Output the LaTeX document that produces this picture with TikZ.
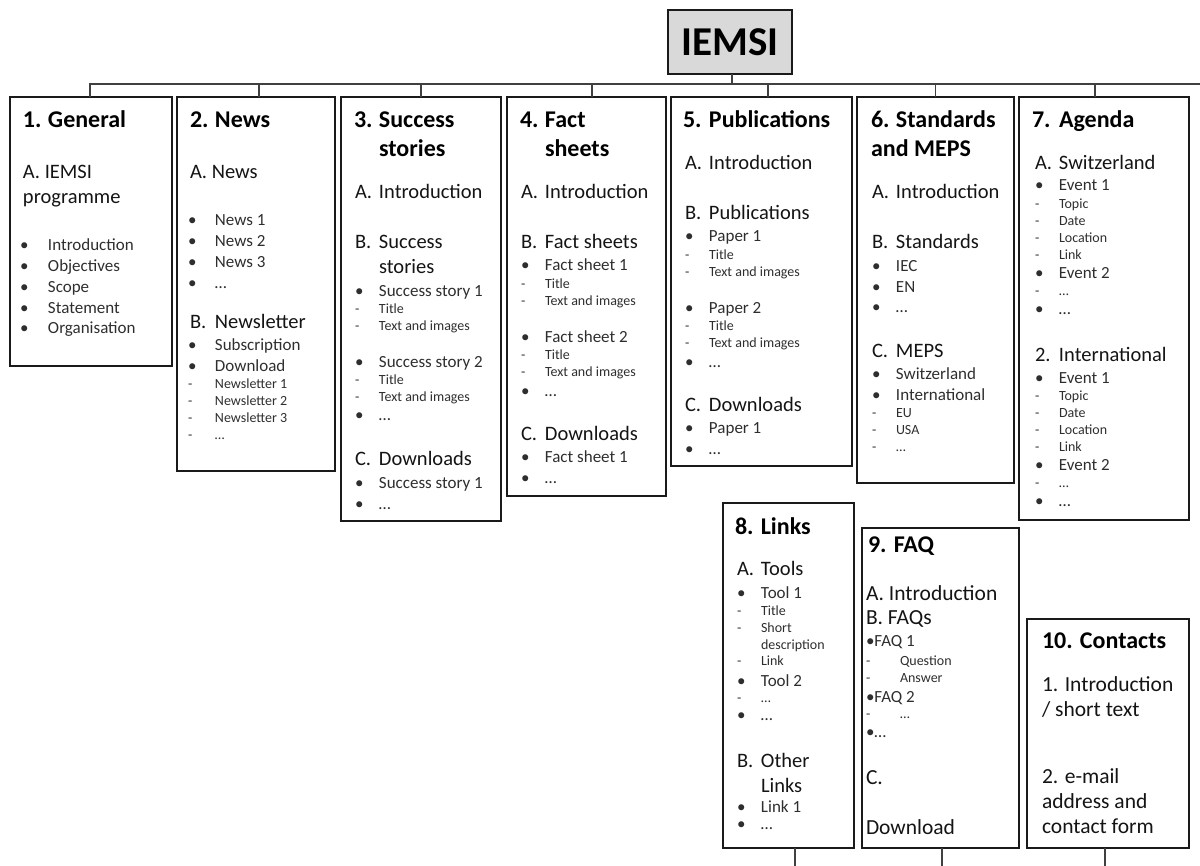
\documentclass[tikz,border=0pt]{standalone}
\usepackage{fontspec}
\setmainfont{Carlito}
\definecolor{tsec}{HTML}{141414}
\definecolor{titem}{HTML}{2E2E2E}
\definecolor{boxline}{HTML}{1A1A1A}
\definecolor{connc}{HTML}{404040}
\definecolor{rootfill}{HTML}{D9D9D9}
\newcounter{tn}
\newcommand\TT[3]{\stepcounter{tn}\node[#1] (t\arabic{tn}) at #2 {#3};}
\newcommand\Hd[3]{\TT{hd}{(\hx,#1)}{\makebox[\dimexpr\tx pt-\hx pt\relax][l]{#2}#3}}
\newcommand\Hc[2]{\TT{hd}{(\tx,#1)}{#2}}
\newcommand\Hp[2]{\TT{hd}{(\hx,#1)}{#2}}
\newcommand\Sd[3]{\TT{sc}{(\lx,#1)}{\makebox[\dimexpr\tx pt-\lx pt\relax][l]{#2}#3}}
\newcommand\Sc[2]{\TT{sc}{(\tx,#1)}{#2}}
\newcommand\Sp[2]{\TT{sc}{(\hx,#1)}{#2}}
\newcommand\Bu[2]{\TT{it}{(\lx,#1)}{\makebox[\dimexpr\tx pt-\lx pt\relax][l]{•}#2}}
\newcommand\Da[2]{\TT{sb}{(\lx,#1)}{\makebox[\dimexpr\tx pt-\lx pt\relax][l]{-}#2}}
\newcommand\Dc[2]{\TT{sb}{(\tx,#1)}{#2}}
\newcommand\At[4]{\TT{#1}{(#2,#3)}{#4}}
\begin{document}
\begin{tikzpicture}[x=1pt,y=-1pt,
  txt/.style={anchor=base west,inner sep=0pt,outer sep=0pt},
  hd/.style={txt,font=\fontsize{24}{29}\selectfont\bfseries,text=black},
  sc/.style={txt,font=\fontsize{20.5}{25}\selectfont,text=tsec},
  scb/.style={txt,font=\fontsize{21.5}{25}\selectfont,text=tsec},
  it/.style={txt,font=\fontsize{17}{21}\selectfont,text=titem},
  sb/.style={txt,font=\fontsize{14}{17}\selectfont,text=titem},
  box/.style={draw=boxline,line width=1.8pt,rectangle,inner sep=0pt,outer sep=0pt},
  conn/.style={draw=connc,line width=1.2pt}]
\useasboundingbox (0,0) rectangle (1200,866);
% boxes
\node[box,fill=rootfill,minimum width=124pt,minimum height=64pt,font=\fontsize{41}{45}\selectfont\bfseries] (root) at (730,42) {IEMSI};
\node[box,minimum width=162pt,minimum height=269pt] (b1) at (91,231.5) {};
\node[box,minimum width=158pt,minimum height=374pt] (b2) at (256,284) {};
\node[box,minimum width=160pt,minimum height=424pt] (b3) at (421,309) {};
\node[box,minimum width=159pt,minimum height=399pt] (b4) at (586.5,296.5) {};
\node[box,minimum width=181pt,minimum height=369pt] (b5) at (761.5,281.5) {};
\node[box,minimum width=157pt,minimum height=386pt] (b6) at (935.5,290) {};
\node[box,minimum width=170pt,minimum height=423pt] (b7) at (1104,308.5) {};
\node[box,minimum width=131pt,minimum height=345pt] (b8) at (788.5,675.5) {};
\node[box,minimum width=157pt,minimum height=320pt] (b9) at (940.5,688) {};
\node[box,minimum width=162pt,minimum height=229pt] (b10) at (1108,733.5) {};
% connectors
\coordinate (busR) at (1200,84);
\draw[conn] ([xshift=2pt]root.south) -- ([xshift=2pt]root.south |- busR);
\draw[conn] ([xshift=-1pt]b1.north) |- (busR);
\draw[conn] ([xshift=3pt]b2.north) -- ([xshift=3pt]b2.north |- busR);
\draw[conn] (b3.north) -- (b3.north |- busR);
\draw[conn] ([xshift=5.5pt]b4.north) -- ([xshift=5.5pt]b4.north |- busR);
\draw[conn] ([xshift=6.5pt]b5.north) -- ([xshift=6.5pt]b5.north |- busR);
\draw[conn] (b6.north) -- (b6.north |- busR);
\draw[conn] ([xshift=-9pt]b7.north) -- ([xshift=-9pt]b7.north |- busR);
\coordinate (e8) at (795,866);
\coordinate (e9) at (942,866);
\coordinate (e10) at (1105,866);
\draw[conn] (b8.south -| e8) -- (e8);
\draw[conn] (b9.south -| e9) -- (e9);
\draw[conn] (b10.south -| e10) -- (e10);
% box 1
\def\hx{23}\def\lx{20}\def\tx{48}
\Hd{128}{1.}{General}
\Sp{179}{A. IEMSI}
\Sp{204}{programme}
\Bu{251}{Introduction}
\Bu{272}{Objectives}
\Bu{293}{Scope}
\Bu{314}{Statement}
\Bu{334}{Organisation}
% box 2
\def\hx{190}\def\lx{188}\def\tx{215}
\Hd{128}{2.}{News}
\Sp{179}{A. News}
\Bu{226}{News 1}
\Bu{247}{News 2}
\Bu{268}{News 3}
\Bu{289}{…}
\def\lx{190}\Sd{329}{B.}{Newsletter}\def\lx{188}
\Bu{351}{Subscription}
\Bu{372}{Download}
\Da{389}{Newsletter 1}
\Da{406}{Newsletter 2}
\Da{423}{Newsletter 3}
\Da{440}{…}
% box 3
\def\hx{354}\def\lx{355}\def\tx{379}
\Hd{128}{3.}{Success}
\Hc{157}{stories}
\Sd{199}{A.}{Introduction}
\Sd{249}{B.}{Success}
\Sc{274}{stories}
\Bu{297}{Success story 1}
\Da{314}{Title}
\Da{331}{Text and images}
\Bu{368}{Success story 2}
\Da{385}{Title}
\Da{402}{Text and images}
\Bu{421}{…}
\Sd{466}{C.}{Downloads}
\Bu{489}{Success story 1}
\Bu{510}{…}
% box 4
\def\hx{520}\def\lx{521}\def\tx{545}
\Hd{128}{4.}{Fact}
\Hc{157}{sheets}
\Sd{199}{A.}{Introduction}
\Sd{249}{B.}{Fact sheets}
\Bu{271}{Fact sheet 1}
\Da{289}{Title}
\Da{306}{Text and images}
\Bu{343}{Fact sheet 2}
\Da{360}{Title}
\Da{377}{Text and images}
\Bu{397}{…}
\Sd{441}{C.}{Downloads}
\Bu{463}{Fact sheet 1}
\Bu{484}{…}
% box 5
\def\hx{683}\def\lx{685}\def\tx{709}
\Hd{128}{5.}{Publications}
\Sd{170}{A.}{Introduction}
\Sd{220}{B.}{Publications}
\Bu{242}{Paper 1}
\Da{260}{Title}
\Da{277}{Text and images}
\Bu{314}{Paper 2}
\Da{331}{Title}
\Da{348}{Text and images}
\Bu{368}{…}
\Sd{412}{C.}{Downloads}
\Bu{434}{Paper 1}
\Bu{455}{…}
% box 6
\def\hx{871}\def\lx{872}\def\tx{896}
\Hd{128}{6.}{Standards}
\Hp{157}{and MEPS}
\Sd{199}{A.}{Introduction}
\Sd{249}{B.}{Standards}
\Bu{272}{IEC}
\Bu{293}{EN}
\Bu{313}{…}
\Sd{358}{C.}{MEPS}
\Bu{380}{Switzerland}
\Bu{401}{International}
\Da{418}{EU}
\Da{435}{USA}
\Da{452}{…}
% box 7
\def\hx{1032}\def\lx{1035}\def\tx{1059}
\Hd{128}{7.}{Agenda}
\Sd{170}{A.}{Switzerland}
\Bu{191}{Event 1}
\Da{209}{Topic}
\Da{226}{Date}
\Da{243}{Location}
\Da{260}{Link}
\Bu{279}{Event 2}
\Da{296}{…}
\Bu{315}{…}
\Sd{362}{2.}{International}
\Bu{384}{Event 1}
\Da{401}{Topic}
\Da{418}{Date}
\Da{435}{Location}
\Da{452}{Link}
\Bu{471}{Event 2}
\Da{488}{…}
\Bu{507}{…}
% box 8
\def\hx{735}\def\lx{737}\def\tx{761}
\Hp{534}{8. Links}
\Sd{575}{A.}{Tools}
\Bu{598}{Tool 1}
\Da{615}{Title}
\Da{632}{Short}
\Dc{649}{description}
\Da{665}{Link}
\Bu{686}{Tool 2}
\Da{702}{…}
\Bu{720}{…}
\Sd{767}{B.}{Other}
\Sc{792}{Links}
\Bu{812}{Link 1}
\Bu{829}{…}
% box 9
\At{hd}{868}{552}{9. FAQ}
\At{scb}{866}{600}{A. Introduction}
\At{scb}{866}{624}{B. FAQs}
\At{it}{866}{646}{•FAQ 1}
\At{sb}{866}{665}{\makebox[34pt][l]{-}Question}
\At{sb}{866}{682}{\makebox[34pt][l]{-}Answer}
\At{it}{866}{702}{•FAQ 2}
\At{sb}{866}{718}{\makebox[34pt][l]{-}…}
\At{it}{866}{737}{•…}
\At{scb}{866}{784}{C.}
\At{scb}{866}{834}{Download}
% box 10
\At{hd}{1042}{648}{10. Contacts}
\At{scb}{1042}{691}{1. Introduction}
\At{scb}{1042}{716}{/ short text}
\At{scb}{1042}{783}{2. e-mail}
\At{scb}{1042}{808}{address and}
\At{scb}{1042}{833}{contact form}
\end{tikzpicture}
\end{document}
